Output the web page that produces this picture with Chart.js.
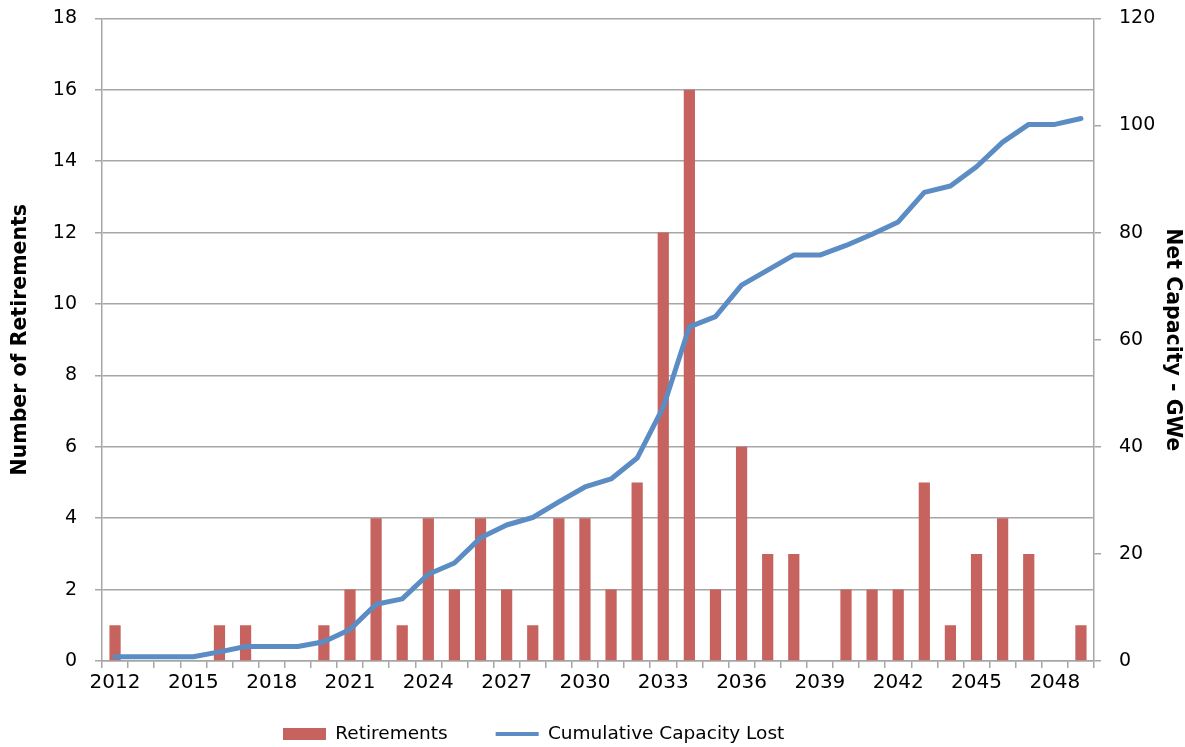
<!DOCTYPE html>
<html>
<head>
<meta charset="utf-8">
<script src="https://cdn.jsdelivr.net/npm/chart.js@4.4.1/dist/chart.umd.min.js"></script>
<style>
html,body{margin:0;padding:0;background:#fff;overflow:hidden;}
#wrap{width:1185px;height:747px;position:relative;overflow:hidden;}
#c{position:absolute;left:0;top:-11px;}
</style>
</head>
<body>
<div id="wrap"><canvas id="c" width="1185" height="789"></canvas></div>
<script>
const years = [];
for (let y = 2012; y <= 2049; y++) years.push(String(y));

const retirements = [1,0,0,0,1,1,0,0,1,2,4,1,4,2,4,2,1,4,4,2,5,12,16,2,6,3,3,0,2,2,2,5,1,3,4,3,0,1];

const cumulativeCapacity = [0.8,0.8,0.8,0.8,1.7,2.7,2.7,2.7,3.6,5.9,10.6,11.6,16.2,18.3,23.0,25.4,26.8,29.7,32.5,34.0,37.9,47.4,62.4,64.3,70.2,73.0,75.8,75.8,77.6,79.7,82.0,87.5,88.7,92.3,96.9,100.2,100.2,101.3];

const leftTicks = [0,2,4,6,8,10,12,14,16,18];
const rightTicks = [0,20,40,60,80,100,120];

const FONT = "Verdana, 'DejaVu Sans', sans-serif";
const GRID = '#a6a6a6';
const BAR = '#c6635e';
const LINE = '#5b8cc4';
const LEGEND_START_X = 283;
const LEGEND_TEXT_Y = 745;

const legendShift = {
  id: 'legendShift',
  afterLayout(chart) {
    const lg = chart.legend;
    if (!lg || !lg.lineWidths) return;
    const p = lg.options.labels.padding;
    const fs = lg.options.labels.font.size;
    lg.left = 0;
    lg.right = 2 * LEGEND_START_X - p + lg.lineWidths[0];
    lg.width = lg.right;
    const h = lg.height;
    lg.top = LEGEND_TEXT_Y - fs / 2 - p;
    lg.bottom = lg.top + h;
  }
};

new Chart(document.getElementById('c'), {
  data: {
    labels: years,
    datasets: [
      {
        type: 'bar',
        label: 'Retirements',
        data: retirements,
        backgroundColor: BAR,
        borderWidth: 0,
        barPercentage: 0.43,
        categoryPercentage: 1.0,
        yAxisID: 'y',
        order: 1
      },
      {
        type: 'line',
        label: 'Cumulative Capacity Lost',
        data: cumulativeCapacity,
        borderColor: LINE,
        backgroundColor: LINE,
        borderWidth: 5,
        pointRadius: 0,
        tension: 0,
        borderJoinStyle: 'round',
        borderCapStyle: 'round',
        yAxisID: 'y1',
        order: 0
      }
    ]
  },
  plugins: [legendShift],
  options: {
    responsive: false,
    animation: false,
    layout: { padding: { top: 9, left: 0, right: 0, bottom: 0 } },
    plugins: {
      tooltip: { enabled: false },
      legend: {
        position: 'bottom',
        labels: {
          font: { family: FONT, size: 18.5 },
          color: '#000',
          padding: 48,
          boxWidth: 43,
          boxHeight: 12,
          usePointStyle: true,
          pointStyleWidth: 43,
          sort: (a, b) => a.datasetIndex - b.datasetIndex,
          generateLabels: (chart) => chart.data.datasets.map((ds, i) => ({
            text: ds.label,
            datasetIndex: i,
            fillStyle: ds.type === 'bar' ? BAR : LINE,
            strokeStyle: ds.type === 'bar' ? BAR : LINE,
            lineWidth: ds.type === 'bar' ? 0 : 4,
            pointStyle: ds.type === 'bar' ? 'rect' : 'line',
            hidden: false,
            fontColor: '#000'
          }))
        }
      }
    },
    scales: {
      x: {
        type: 'category',
        offset: true,
        afterFit: (s) => { s.height = 40.5; },
        grid: {
          display: true,
          offset: true,
          drawOnChartArea: false,
          drawTicks: true,
          tickLength: 7,
          color: GRID,
          lineWidth: 1.5
        },
        border: { display: true, color: GRID, width: 1.5 },
        ticks: {
          autoSkip: false,
          maxRotation: 0,
          minRotation: 0,
          padding: 3,
          color: '#000',
          font: { family: FONT, size: 20 },
          callback: function (val, idx) { return idx % 3 === 0 ? this.getLabelForValue(val) : ''; }
        }
      },
      y: {
        type: 'linear',
        position: 'left',
        min: 0,
        max: 18,
        afterBuildTicks: (s) => { s.ticks = leftTicks.map(v => ({ value: v })); },
        afterFit: (s) => { s.width = 102; },
        grid: {
          color: GRID,
          lineWidth: 1.5,
          tickLength: 7
        },
        border: { display: true, color: GRID, width: 1.5 },
        ticks: {
          padding: 18,
          color: '#000',
          font: { family: FONT, size: 19 }
        },
        title: {
          display: true,
          text: 'Number of Retirements',
          color: '#000',
          font: { family: FONT, size: 20.5, weight: 'bold' },
          padding: { top: 8, bottom: 0 }
        }
      },
      y1: {
        type: 'linear',
        position: 'right',
        min: 0,
        max: 120,
        afterBuildTicks: (s) => { s.ticks = rightTicks.map(v => ({ value: v })); },
        afterFit: (s) => { s.width = 91; },
        grid: {
          drawOnChartArea: false,
          color: GRID,
          lineWidth: 1.5,
          tickLength: 7
        },
        border: { display: true, color: GRID, width: 1.5 },
        ticks: {
          padding: 18,
          color: '#000',
          font: { family: FONT, size: 19 }
        },
        title: {
          display: true,
          text: 'Net Capacity - GWe',
          color: '#000',
          font: { family: FONT, size: 20.5, weight: 'bold' },
          padding: { top: 0, bottom: 0 }
        }
      }
    }
  }
});
</script>
</body>
</html>
